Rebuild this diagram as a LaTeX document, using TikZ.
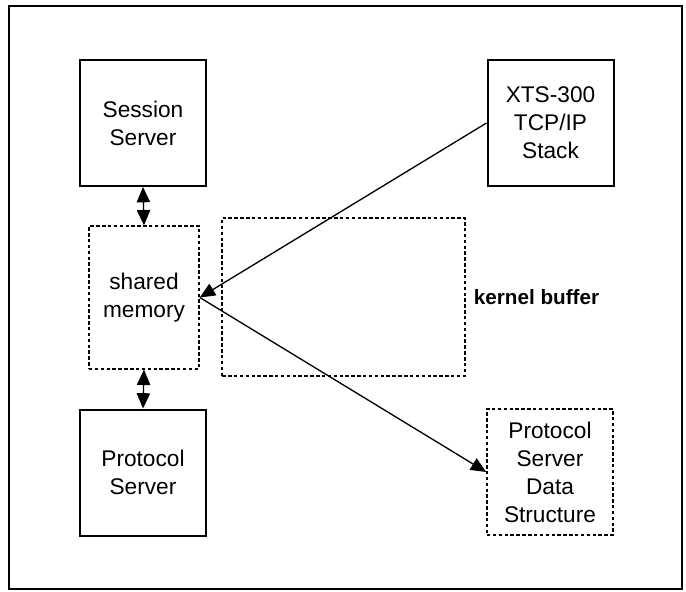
\documentclass[tikz,border=0pt]{standalone}
\usepackage{fontspec}
\setmainfont{Liberation Sans}
\usetikzlibrary{arrows.meta,positioning}

\begin{document}
\begin{tikzpicture}[x=0.75pt,y=-0.75pt,
	every node/.style={font=\fontsize{17}{21}\selectfont, align=center, inner sep=0pt},
	solidbox/.style={draw, line width=1.5pt, minimum width=94.5pt, minimum height=94.5pt},
	dashbox/.style={draw, line width=1.2pt, dash pattern=on 2.6pt off 1.8pt},
	link/.style={line width=1pt, -{Triangle[length=11.5pt,width=10pt]}},
	bothlink/.style={line width=1pt, {Triangle[length=11.5pt,width=10pt]}-{Triangle[length=11.5pt,width=10pt]}}]
	\useasboundingbox (0,0) rectangle (686,592);
	\draw[line width=1.1pt] (9,6) rectangle (682,589);
	% left column
	\node[solidbox] (session) at (143,123) {Session\\Server};
	\node[dashbox, minimum width=82.5pt, minimum height=107pt] (shared) at (144,297.5) {shared\\memory};
	\node[solidbox] (protocol) at (143,472.5) {Protocol\\Server};
	% middle
	\node[dashbox, minimum width=182pt, minimum height=118.5pt] (kernel) at (343.5,297) {};
	\node[right=6pt of kernel, font=\bfseries\fontsize{15.5}{19}\selectfont] (kernellabel) {kernel buffer};
	% right column
	\node[solidbox] (xts) at (550.5,123) {XTS-300\\TCP/IP\\Stack};
	\node[dashbox, minimum width=94.5pt, minimum height=94.5pt] (psds) at (550,472) {Protocol\\Server\\Data\\Structure};
	% connectors
	\draw[bothlink] (session.south) -- (shared.north);
	\draw[bothlink] (shared.south) -- (protocol.north);
	\draw[link] (xts.west) -- (shared.east);
	\draw[link] (shared.east) -- (psds.west);
\end{tikzpicture}
\end{document}
